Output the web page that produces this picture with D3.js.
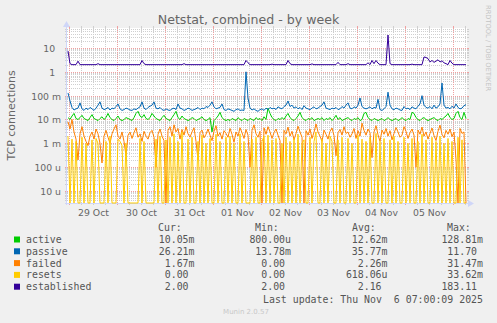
<!DOCTYPE html>
<html>
<head>
<meta charset="utf-8">
<script src="https://d3js.org/d3.v7.min.js"></script>
<style>
body { margin: 0; background: #f0f0f0; }
svg text { white-space: pre; }
</style>
</head>
<body>
<script>
"use strict";

// one value per hour, starting 28 Oct 23:00 UTC (200 hours)
// active, passive, failed, resets are in milli-connections
const activeM = [
    12,10,14,18,11,10,12,15,11,10, 9,12,16,11,10,9,11,13,10,12,
    18,12,10,9,11,14,10,9,10,12, 11,10,9,12,18,22,14,12,16,11,
    10,12,18,14,11,10,9,12,15,11, 10,9,12,16,22,12,10,14,11,10,
    9,10,12,11,9,10,11,13,10,9, 10,12,3,9,11,14,20,12,10,9,
    10,9,11,10,9,12,10,9,11,10, 9,11,10,9,12,10,11,9,13,10,
    30,18,12,10,9,11,10,12,10,14, 18,12,10,9,11,14,20,12,10,9,
    11,10,12,9,10,11,10,12,9,11, 10,12,9,11,15,10,12,9,10,11,
    12,10,9,11,10,12,9,10,18,20, 12,10,9,11,10,9,10,11,9,10,
    12,10,9,10,11,9,10,12,10,9, 11,10,20,18,12,10,9,11,12,10,
    9,10,11,12,10,9,11,10,12,14, 18,12,10,11,18,22,12,10,20,11
]
const passiveM = [
    130,60,32,25,28,30,50,28,24,30, 26,32,28,24,30,40,55,30,26,28,
    32,25,30,28,35,45,28,24,26,30, 28,25,24,28,26,30,34,55,30,26,
    32,36,40,55,30,28,32,26,24,28, 25,24,28,30,26,45,30,28,24,26,
    30,28,24,26,28,32,26,30,28,35, 32,40,55,34,28,30,32,45,26,24,
    28,26,24,22,26,28,24,25,24,1000, 80,30,25,28,24,22,26,28,24,30,
    26,32,28,30,26,34,30,28,35,40, 60,35,40,30,34,28,32,26,38,30,
    28,26,30,34,28,30,35,40,55,30, 28,26,30,28,32,26,28,35,30,40,
    50,30,28,34,30,40,80,35,30,28, 30,34,28,32,30,70,26,24,28,35,
    140,40,28,26,30,28,25,24,35,28, 30,26,34,30,28,36,45,100,40,32,
    30,35,28,40,30,34,45,340,40,30, 32,28,36,30,45,32,28,30,38,42
]
const failedM = [
    8,4,10,3,1.5,0.2,2.5,5,2,1.2, 0.8,2,3,1.5,4,2.5,1,0.15,2,3.5,
    1.8,1,2.5,4,6,2,1.5,3,1.2,0.3, 2.2,3,1.6,2.8,4.5,1.8,2.5,1.2,3.2,2,
    1.5,2.8,3.5,1.8,0.1,2.4,4,2,1.3,0, 3.5,5,2,6,3,4.2,1.5,3.8,2.2,5,
    2.5,1.8,3,4.5,1.2,0.2,2.8,3.6,1.7,2.4, 4,2.2,1.3,3.2,5.5,2,2.8,1.5,3.4,2.6,
    1.8,4.2,2.4,1.1,3,2,4.5,2.8,1.6,3.8, 2.2,0.1,3.5,6,2.5,1.8,3.2,0,4.5,2.4,
    5,3,1.6,2.8,4,2.2,1.3,0,3.5,2.5, 4.8,2,3.2,1.4,2.6,5.2,3,1.8,0,3.4,
    2.2,4,1.6,2.9,6.5,3,2,1.2,3.6,2.4, 1.5,3.2,4.4,2.1,0.3,2.8,3.8,2.2,5,2.6,
    3,1.8,2.5,4.2,1.6,3.4,2,7,3.5,2.2, 4,2.8,0.25,3,5.5,2.3,1.2,3.6,2.4,4.2,
    2,3.4,1.4,2.6,4.6,3,1.8,2.2,5,3.2, 1.6,2.8,4,2.2,0.1,3.6,2.4,4.8,2,3,
    1.5,2.6,4.4,2.1,1.3,3.2,5.8,2.4,1.7,3.5, 2.4,4,1.9,3,0.2,0,4.2,2.6,3,0
]
const resetsM = [
    2,0,1.5,0,1.2,0,0,1.8,0,1.0, 0,0,1.4,0,1.6,1.0,0,0,0,1.2,
    0,2.0,0,0,0,1.5,1.2,0.8,0,1.0, 0,0,0,0,0,0,1.6,0,1.2,0,
    0,0,0,0,1.5,0,2.0,0,0,1.4, 0,1.8,0,2.5,0,1.2,0,3.0,0,0,
    1.5,0,1.8,0,0,1.2,0,2.2,0,1.0, 0,1.6,0,0,2.4,0,1.2,0,0,1.8,
    0,2.0,0,1.0,0,0,2.5,0,1.2,0, 0,0,1.5,0,1.8,0,0,1.2,2.0,0,
    2.2,0,1.4,0,1.6,0,0,1.0,0,1.8, 0,1.2,0,1.6,0,2.4,0,1.0,1.4,0,
    0,1.8,0,1.2,3.0,0,0,1.5,0,1.0, 0,2.0,1.2,0,0,1.4,0,1.8,0,0,
    1.6,0,1.0,0,0,2.2,0,1.5,0,1.2, 0,1.8,0,0,2.6,0,1.2,0,1.6,0,
    0,1.4,0,2.0,0,1.2,0,0,1.8,0, 1.0,0,1.6,0,0,1.2,0,2.4,0,1.4,
    0,0,1.8,0,1.2,0,2.0,0,1.0,0, 1.6,0,1.2,0,0,1.8,0,1.4,0,0
]
// established is in connections
const established = [
    7.5,2.2,2,2,2,2.8,2,2,2,2, 2,2,2,2,2,2.2,2,2,2,2,
    2,2,2,2,2,2,2,2,2,2, 2,2,2,2,2,2,2,3.0,2.2,2,
    2,2,2,2,2,2,2,2,2,2, 2,2,2,2,2,2,2,2,2.2,2,
    2,2,2,2,2,2,2,2,2,2, 2,2,2,2,2,2,2,2,2,2,
    2,2,2,2,2,2,2,2,2,3.0, 2.4,2,2,2,2,2,2,2,2,2,
    2,2,2.1,2,2,2,2,2,2,2, 3.0,2.2,2,2,2,2,2,2,2,2,
    2,2,2.15,2,2,2,2,2,2,2, 2,2,2,2,2,2.5,2,2,2,2,
    2.2,2,2,2,2,2,2,2,2,2, 2.4,2,3.0,2.2,3.0,2.3,2,2,2,2,
    35,2.2,2,2,2,2,2,2,2,2, 2,2,2.1,2,2,2,2,2,4.2,4.0,
    3.6,2.6,3.0,2.5,2.8,3.2,2.6,2.9,2.4,2.2, 2,3.0,2.3,2,2,2,2,2,2,2
]

const seriesNames = ["active", "passive", "failed", "resets", "established"]
const seriesColors = ["#00cc00", "#0066b3", "#ff8000", "#ffcc00", "#330099"]
const curVals = ["10.05m", "26.21m", "1.67m", "0.00 ", "2.00 "]
const minVals = ["800.00u", "13.78m", "0.00 ", "0.00 ", "2.00 "]
const avgVals = ["12.62m", "35.77m", "2.26m", "618.06u", "2.16 "]
const maxVals = ["128.81m", "11.70 ", "31.47m", "33.62m", "183.11 "]

const yTicks = [10, 1, 0.1, 0.01, 0.001, 0.0001, 0.00001]
const yTickLabels = ["10  ", "1  ", "100 m", "10 m", "1 m", "100 u", "10 u"]
const dayLabels = ["29 Oct", "30 Oct", "31 Oct", "01 Nov", "02 Nov", "03 Nov", "04 Nov", "05 Nov"]

const measurements = {
    width: 497,
    height: 323,
    left: 67,
    right: 467,
    top: 28,
    bottom: 203
}
const tStart = Date.UTC(2025, 9, 28, 23, 0)
const tEnd = Date.UTC(2025, 10, 6, 7, 0)
const hour = 3600000
const sans = "DejaVu Sans, sans-serif"
const mono = "DejaVu Sans Mono, monospace"

const svg = d3.select("body").append("svg")
    .attr("width", measurements.width)
    .attr("height", measurements.height)

const scaleX = d3.scaleUtc()
    .domain([tStart, tEnd])
    .range([measurements.left, measurements.right])
const scaleY = d3.scaleLog()
    .domain([Math.pow(10, -5.504), Math.pow(10, 1.839)])
    .range([measurements.bottom, measurements.top])
    .clamp(true)

drawCanvas()
drawGrid()
drawAxes()
plotData()
drawLegend()

function drawCanvas() {
    svg.append("rect")
        .attr("width", measurements.width).attr("height", measurements.height)
        .attr("fill", "#f0f0f0")
    svg.append("rect")
        .attr("x", measurements.left).attr("y", measurements.top)
        .attr("width", measurements.right - measurements.left)
        .attr("height", measurements.bottom - measurements.top)
        .attr("fill", "#ffffff")

    svg.append("text")
        .attr("x", 248.5).attr("y", 24)
        .attr("text-anchor", "middle")
        .attr("font-family", sans).attr("font-size", 12.6)
        .attr("fill", "#666")
        .text("Netstat, combined - by week")

    svg.append("text")
        .attr("transform", "translate(15,115.5) rotate(-90)")
        .attr("text-anchor", "middle")
        .attr("font-family", sans).attr("font-size", 11)
        .attr("fill", "#666")
        .text("TCP connections")

    svg.append("text")
        .attr("transform", "translate(485.5,5) rotate(90)")
        .attr("font-family", sans).attr("font-size", 6.7)
        .attr("fill", "#c4c4c4")
        .text("RRDTOOL / TOBI OETIKER")

    svg.append("text")
        .attr("x", 246).attr("y", 314)
        .attr("text-anchor", "middle")
        .attr("font-family", sans).attr("font-size", 7)
        .attr("fill", "#c8c8c8")
        .text("Munin 2.0.57")
}

function drawGrid() {
    const g = svg.append("g").attr("shape-rendering", "crispEdges")
    const minorCol = "#cfcfcf"
    const majorCol = "#f0a0a0"

    // vertical grid every 6 hours, major at midnight
    const vTimes = d3.utcHour.every(6).range(new Date(tStart), new Date(tEnd))
    const vMinor = vTimes.filter(d => d.getUTCHours() !== 0)
    const vMajor = vTimes.filter(d => d.getUTCHours() === 0)
    const vx = d => Math.round(scaleX(d)) + 0.5

    // horizontal grid on each 1..9 of a decade
    const hVals = []
    for (let e = -6; e <= 1; e++) {
        for (let k = 1; k <= 9; k++) {
            const v = k * Math.pow(10, e)
            if (v >= scaleY.domain()[0] && v <= scaleY.domain()[1]) hVals.push({ v: v, major: k === 1 })
        }
    }
    const hy = d => Math.round(scaleY(d.v)) + 0.5

    function vLines(data, col) {
        g.selectAll(null).data(data).enter().append("line")
            .attr("x1", vx).attr("x2", vx)
            .attr("y1", measurements.top - 2).attr("y2", measurements.bottom + 2)
            .attr("stroke", col).attr("stroke-dasharray", "1,1")
        g.selectAll(null).data(data).enter().append("line")
            .attr("x1", vx).attr("x2", vx)
            .attr("y1", measurements.bottom).attr("y2", measurements.bottom + 2)
            .attr("stroke", col)
        g.selectAll(null).data(data).enter().append("line")
            .attr("x1", vx).attr("x2", vx)
            .attr("y1", measurements.top - 2).attr("y2", measurements.top)
            .attr("stroke", col)
    }
    function hLines(data, col) {
        g.selectAll(null).data(data).enter().append("line")
            .attr("x1", measurements.left - 2).attr("x2", measurements.right + 2)
            .attr("y1", hy).attr("y2", hy)
            .attr("stroke", col).attr("stroke-dasharray", "1,1")
        g.selectAll(null).data(data).enter().append("line")
            .attr("x1", measurements.left - 2).attr("x2", measurements.left)
            .attr("y1", hy).attr("y2", hy)
            .attr("stroke", col)
        g.selectAll(null).data(data).enter().append("line")
            .attr("x1", measurements.right).attr("x2", measurements.right + 2)
            .attr("y1", hy).attr("y2", hy)
            .attr("stroke", col)
    }
    vLines(vMinor, minorCol)
    hLines(hVals.filter(d => !d.major), minorCol)
    vLines(vMajor, majorCol)
    hLines(hVals.filter(d => d.major), majorCol)
}

function drawAxes() {
    const axisCol = "#cfd6f8"
    const labelTimes = dayLabels.map((d, i) => new Date(Date.UTC(2025, 9, 29 + i, 12)))

    const xAxis = d3.axisBottom(scaleX)
        .tickValues(labelTimes)
        .tickFormat((d, i) => dayLabels[i])
        .tickSize(0)
    const gx = svg.append("g")
        .attr("transform", `translate(0,${measurements.bottom})`)
        .call(xAxis)
    gx.select(".domain").remove()
    gx.selectAll("text")
        .attr("y", 13).attr("dy", null)
        .attr("font-family", sans).attr("font-size", 9.3)
        .attr("fill", "#666")

    const yAxis = d3.axisLeft(scaleY)
        .tickValues(yTicks)
        .tickFormat((d, i) => yTickLabels[i])
        .tickSize(0)
        .tickPadding(6)
    const gy = svg.append("g")
        .attr("transform", `translate(${measurements.left},0)`)
        .call(yAxis)
    gy.select(".domain").remove()
    gy.selectAll("text")
        .attr("dy", "0.36em")
        .attr("font-family", sans).attr("font-size", 9.3)
        .attr("fill", "#666")
        .attr("xml:space", "preserve")

    // rrdtool style axis lines with arrows
    svg.append("line")
        .attr("x1", measurements.left - 0.5).attr("x2", measurements.left - 0.5)
        .attr("y1", measurements.bottom + 2).attr("y2", measurements.top - 4)
        .attr("stroke", axisCol)
    svg.append("line")
        .attr("x1", measurements.left - 2).attr("x2", measurements.right + 2)
        .attr("y1", measurements.bottom + 0.5).attr("y2", measurements.bottom + 0.5)
        .attr("stroke", axisCol)
    svg.append("path")
        .attr("d", `M${measurements.left - 4},${measurements.top - 1}L${measurements.left + 3},${measurements.top - 1}L${measurements.left - 0.5},${measurements.top - 7}Z`)
        .attr("fill", axisCol)
    svg.append("path")
        .attr("d", `M${measurements.right + 1},${measurements.bottom - 3}L${measurements.right + 1},${measurements.bottom + 4}L${measurements.right + 7},${measurements.bottom + 0.5}Z`)
        .attr("fill", axisCol)
}

function plotData() {
    const series = [
        activeM.map(v => v / 1000),
        passiveM.map(v => v / 1000),
        failedM.map(v => v / 1000),
        resetsM.map(v => v / 1000),
        established
    ]
    const line = d3.line()
        .x((d, i) => scaleX(tStart + (i + 0.5) * hour))
        .y(d => d > 0 ? scaleY(d) : measurements.bottom)

    series.forEach((values, k) => {
        svg.append("path")
            .datum(values)
            .attr("d", line)
            .attr("fill", "none")
            .attr("stroke", seriesColors[k])
            .attr("stroke-width", 1)
    })
}

function drawLegend() {
    const rowY = seriesNames.map((d, i) => 243 + i * 11.8)
    const g = svg.append("g")
        .attr("font-family", mono).attr("font-size", 9.9)
        .attr("fill", "#555")

    const headers = [["Cur:", 158], ["Min:", 255], ["Avg:", 352], ["Max:", 447]]
    headers.forEach(h => {
        g.append("text").attr("x", h[1]).attr("y", 231).text(h[0])
    })

    const columns = [[curVals, 194.5], [minVals, 291], [avgVals, 387.5], [maxVals, 483]]
    seriesNames.forEach((name, i) => {
        svg.append("rect")
            .attr("x", 14).attr("y", rowY[i] - 6.5)
            .attr("width", 6).attr("height", 6)
            .attr("fill", seriesColors[i])
        g.append("text").attr("x", 26).attr("y", rowY[i]).text(name)
        columns.forEach(c => {
            g.append("text")
                .attr("x", c[1]).attr("y", rowY[i])
                .attr("text-anchor", "end")
                .attr("xml:space", "preserve")
                .text(c[0][i])
        })
    })

    g.append("text")
        .attr("x", 483).attr("y", 302.5)
        .attr("text-anchor", "end")
        .attr("xml:space", "preserve")
        .text("Last update: Thu Nov  6 07:00:09 2025")
}
</script>
</body>
</html>
